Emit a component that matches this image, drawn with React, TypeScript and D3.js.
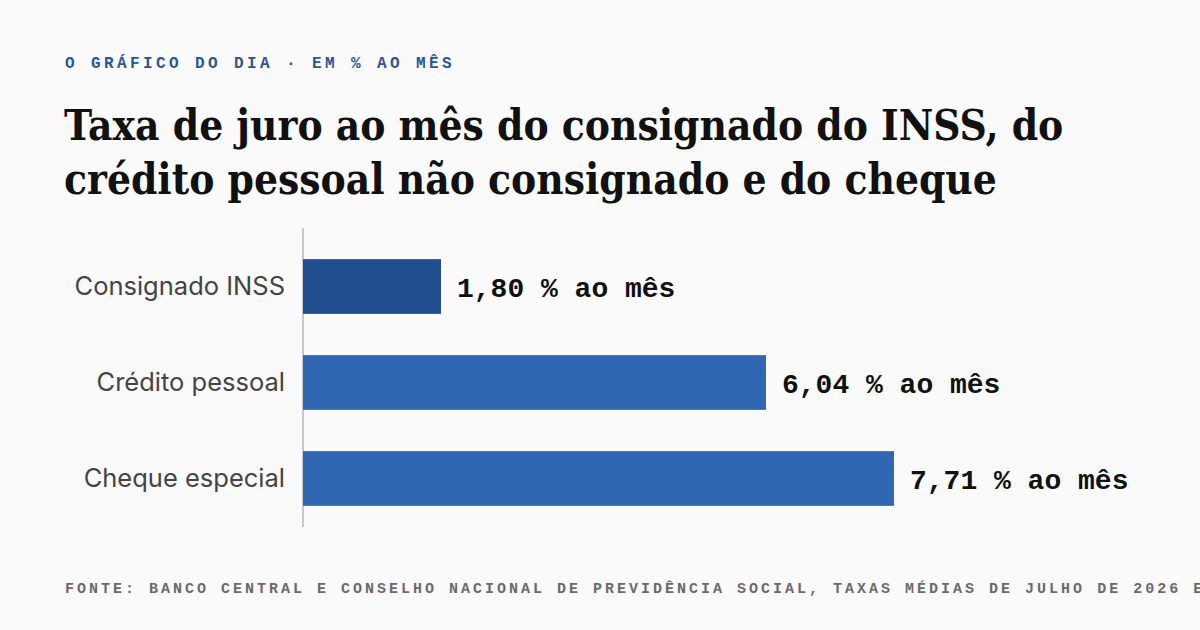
import { useMemo } from "react";
import * as d3 from "d3";

const categories = ["Consignado INSS", "Crédito pessoal", "Cheque especial"];
const rates = [1.8, 6.04, 7.71];
const barColors = ["#1f4d8d", "#2f67b2", "#2f67b2"];

const kicker = "O GRÁFICO DO DIA · EM % AO MÊS";
const titleLines = [
  "Taxa de juro ao mês do consignado do INSS, do",
  "crédito pessoal não consignado e do cheque",
];
const source =
  "FONTE: BANCO CENTRAL E CONSELHO NACIONAL DE PREVIDÊNCIA SOCIAL, TAXAS MÉDIAS DE JULHO DE 2026 E";

const W = 1200;
const H = 630;

const fmt = (v: number) => v.toFixed(2).replace(".", ",") + " % ao mês";

export default function App() {
  const x = useMemo(() => d3.scaleLinear().domain([0, 7.71]).range([303, 894]), []);
  const y = useMemo(
    () =>
      d3.scaleBand<string>()
        .domain(categories)
        .range([238.5, 526.5])
        .paddingInner(0.43)
        .paddingOuter(0.215),
    []
  );

  const mono = "'Liberation Mono', 'DejaVu Sans Mono', monospace";

  return (
    <svg
      width={W}
      height={H}
      viewBox={`0 0 ${W} ${H}`}
      style={{ position: "absolute", left: 0, top: 0, background: "#fafafa" }}
    >
      <rect width={W} height={H} fill="#fafafa" />

      {/* kicker */}
      <text
        x={65}
        y={68}
        fontFamily={mono}
        fontWeight={700}
        fontSize={16}
        letterSpacing={3.4}
        fill="#2b5695"
      >
        {kicker}
      </text>

      {/* title */}
      {titleLines.map((line, i) => (
        <text
          key={i}
          x={64}
          y={140 + i * 54}
          fontFamily="'DejaVu Serif Condensed', 'DejaVu Serif', serif"
          fontWeight={700}
          fontSize={42}
          fill="#111"
        >
          {line}
        </text>
      ))}

      {/* axis line */}
      <line x1={303} x2={303} y1={228} y2={527} stroke="#c9c9c9" strokeWidth={2} />

      {categories.map((c, i) => {
        const by = y(c) ?? 0;
        const cy = by + y.bandwidth() / 2;
        return (
          <g key={c}>
            <rect
              x={x(0)}
              y={by}
              width={x(rates[i]) - x(0)}
              height={y.bandwidth()}
              fill={barColors[i]}
            />
            <text
              x={285}
              y={cy}
              dy="0.35em"
              textAnchor="end"
              fontFamily="Inter, 'Noto Sans', sans-serif"
              fontSize={25.5}
              fill="#444"
            >
              {c}
            </text>
            <text
              x={x(rates[i]) + 16}
              y={cy}
              dy="0.36em"
              fontFamily={mono}
              fontWeight={700}
              fontSize={28}
              fill="#111"
            >
              {fmt(rates[i])}
            </text>
          </g>
        );
      })}

      {/* source */}
      <text
        x={65}
        y={593}
        fontFamily={mono}
        fontWeight={700}
        fontSize={15}
        letterSpacing={3}
        fill="#6b6b6b"
      >
        {source}
      </text>
    </svg>
  );
}
